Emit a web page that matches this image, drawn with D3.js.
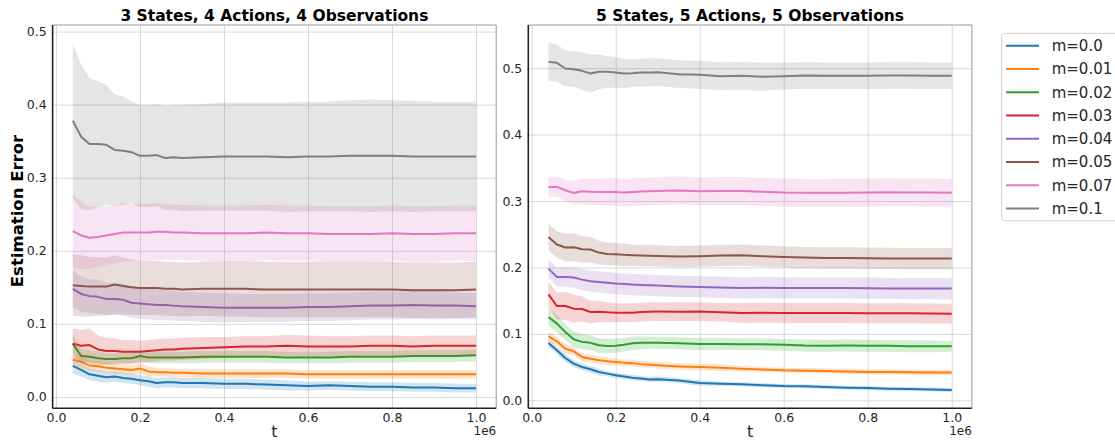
<!DOCTYPE html>
<html>
<head>
<meta charset="utf-8">
<script src="https://cdn.jsdelivr.net/npm/d3@7"></script>
<style>
body { margin: 0; background: #fff; }
svg { font-family: "DejaVu Sans", sans-serif; }
</style>
</head>
<body>
<div class="chart"></div>
<script>
/* estimation error vs t, two panels */

// shared time grid (x values, in units of 1e6)
var tValues = [0.04, 0.06, 0.08, 0.10, 0.12, 0.14, 0.16, 0.18, 0.20, 0.22, 0.24, 0.26, 0.28, 0.30,
               0.35, 0.40, 0.45, 0.50, 0.55, 0.60, 0.65, 0.70, 0.75, 0.80, 0.85, 0.90, 0.95, 1.00];

var mLabels = ["m=0.0", "m=0.01", "m=0.02", "m=0.03", "m=0.04", "m=0.05", "m=0.07", "m=0.1"];
var panelTitles = ["3 States, 4 Actions, 4 Observations", "5 States, 5 Actions, 5 Observations"];
var xTicks = [0.0, 0.2, 0.4, 0.6, 0.8, 1.0];
var leftYTicks = [0.0, 0.1, 0.2, 0.3, 0.4, 0.5];
var rightYTicks = [0.0, 0.1, 0.2, 0.3, 0.4, 0.5];

// ---- left panel: mean curve and half-width of shaded band ----
var leftMean_00 = [0.0425,0.037,0.031,0.029,0.027,0.028,0.026,0.025,0.023,0.0215,0.019,0.020,0.020,0.019,0.019,0.018,0.018,0.017,0.016,0.015,0.016,0.015,0.014,0.014,0.013,0.013,0.012,0.012];
var leftBand_00 = [0.010,0.009,0.008,0.008,0.008,0.007,0.007,0.007,0.007,0.007,0.007,0.007,0.007,0.007,0.007,0.007,0.007,0.007,0.007,0.006,0.006,0.006,0.006,0.006,0.006,0.006,0.006,0.006];
var leftMean_01 = [0.051,0.048,0.043,0.042,0.040,0.039,0.038,0.037,0.039,0.035,0.034,0.034,0.033,0.033,0.032,0.032,0.032,0.032,0.032,0.031,0.031,0.031,0.031,0.031,0.031,0.031,0.031,0.031];
var leftBand_01 = [0.008,0.008,0.007,0.007,0.007,0.007,0.007,0.007,0.007,0.007,0.006,0.006,0.006,0.006,0.006,0.006,0.006,0.006,0.006,0.006,0.006,0.006,0.006,0.006,0.006,0.006,0.006,0.006];
var leftMean_02 = [0.073,0.056,0.055,0.053,0.052,0.052,0.053,0.053,0.056,0.054,0.054,0.054,0.054,0.054,0.055,0.055,0.055,0.055,0.054,0.054,0.054,0.055,0.055,0.055,0.056,0.056,0.056,0.057];
var leftBand_02 = [0.012,0.010,0.009,0.009,0.008,0.008,0.008,0.008,0.008,0.008,0.008,0.008,0.008,0.008,0.008,0.008,0.008,0.008,0.008,0.008,0.008,0.008,0.008,0.008,0.008,0.008,0.008,0.008];
var leftMean_03 = [0.073,0.070,0.071,0.065,0.063,0.063,0.062,0.062,0.062,0.063,0.064,0.065,0.065,0.066,0.067,0.068,0.069,0.069,0.070,0.069,0.069,0.069,0.070,0.070,0.069,0.070,0.070,0.070];
var leftBand_03 = [0.021,0.022,0.023,0.019,0.018,0.017,0.016,0.016,0.015,0.015,0.015,0.015,0.015,0.015,0.015,0.014,0.014,0.014,0.015,0.015,0.014,0.014,0.014,0.014,0.014,0.014,0.014,0.014];
var leftMean_04 = [0.148,0.141,0.138,0.137,0.134,0.134,0.133,0.129,0.128,0.127,0.126,0.126,0.125,0.124,0.123,0.122,0.122,0.122,0.122,0.123,0.123,0.124,0.125,0.125,0.126,0.125,0.125,0.124];
var leftBand_04 = [0.025,0.024,0.023,0.023,0.022,0.022,0.022,0.021,0.021,0.021,0.021,0.021,0.020,0.020,0.020,0.020,0.019,0.019,0.019,0.019,0.019,0.019,0.019,0.019,0.019,0.019,0.018,0.018];
var leftMean_05 = [0.153,0.152,0.151,0.151,0.151,0.154,0.152,0.150,0.149,0.149,0.149,0.148,0.148,0.147,0.148,0.148,0.148,0.147,0.147,0.147,0.147,0.147,0.147,0.147,0.146,0.146,0.146,0.147];
var leftBand_05 = [0.042,0.042,0.041,0.040,0.040,0.040,0.039,0.038,0.037,0.037,0.037,0.037,0.037,0.037,0.037,0.038,0.038,0.038,0.038,0.038,0.038,0.038,0.038,0.038,0.038,0.038,0.038,0.038];
var leftMean_07 = [0.227,0.221,0.218,0.219,0.221,0.223,0.225,0.225,0.225,0.225,0.226,0.226,0.225,0.225,0.224,0.224,0.224,0.225,0.224,0.224,0.223,0.223,0.223,0.224,0.223,0.223,0.224,0.224];
var leftBand_07 = [0.050,0.046,0.043,0.041,0.040,0.040,0.040,0.039,0.039,0.039,0.039,0.038,0.038,0.038,0.038,0.038,0.038,0.038,0.038,0.038,0.038,0.038,0.038,0.038,0.038,0.038,0.038,0.038];
var leftMean_10 = [0.378,0.356,0.346,0.346,0.345,0.338,0.337,0.335,0.330,0.330,0.331,0.327,0.328,0.327,0.328,0.329,0.329,0.329,0.328,0.329,0.329,0.330,0.330,0.330,0.329,0.329,0.329,0.329];
var leftBand_10 = [0.106,0.099,0.090,0.086,0.082,0.076,0.074,0.070,0.070,0.070,0.070,0.071,0.072,0.073,0.073,0.074,0.074,0.074,0.075,0.075,0.075,0.076,0.077,0.076,0.076,0.075,0.075,0.075];

// ---- right panel ----
var rightMean_00 = [0.0863,0.0753,0.0637,0.0552,0.0502,0.0467,0.0427,0.0402,0.0376,0.0358,0.0340,0.0330,0.0315,0.0318,0.0300,0.0261,0.0250,0.0241,0.0228,0.0216,0.0211,0.0200,0.0190,0.0186,0.0175,0.0170,0.0163,0.0156];
var rightBand_00 = [0.006,0.006,0.006,0.005,0.005,0.005,0.005,0.004,0.004,0.004,0.004,0.004,0.004,0.004,0.004,0.004,0.003,0.003,0.003,0.003,0.003,0.003,0.003,0.003,0.003,0.003,0.003,0.003];
var rightMean_01 = [0.0964,0.0889,0.0778,0.0738,0.0652,0.0627,0.0602,0.0590,0.0577,0.0565,0.0560,0.0545,0.0535,0.0527,0.0510,0.0500,0.0490,0.0477,0.0465,0.0452,0.0447,0.0442,0.0435,0.0427,0.0427,0.0422,0.0420,0.0420];
var rightBand_01 = [0.007,0.007,0.007,0.006,0.006,0.006,0.006,0.006,0.005,0.005,0.005,0.005,0.005,0.005,0.005,0.005,0.005,0.004,0.004,0.004,0.004,0.004,0.004,0.004,0.004,0.004,0.004,0.004];
var rightMean_02 = [0.1255,0.1155,0.1030,0.0919,0.0880,0.0865,0.0828,0.0818,0.0822,0.0838,0.0858,0.0865,0.0868,0.0866,0.0860,0.0848,0.0848,0.0846,0.0843,0.0835,0.0825,0.0823,0.0825,0.0822,0.0820,0.0815,0.0813,0.0813];
var rightBand_02 = [0.013,0.013,0.012,0.012,0.011,0.011,0.011,0.011,0.011,0.010,0.010,0.010,0.009,0.009,0.009,0.009,0.009,0.009,0.009,0.009,0.009,0.009,0.009,0.009,0.009,0.009,0.009,0.008];
var rightMean_03 = [0.1596,0.1420,0.1420,0.1380,0.1375,0.1330,0.1335,0.1325,0.1320,0.1318,0.1320,0.1328,0.1335,0.1336,0.1335,0.1336,0.1325,0.1315,0.1318,0.1315,0.1315,0.1315,0.1315,0.1312,0.1312,0.1310,0.1308,0.1305];
var rightBand_03 = [0.019,0.020,0.021,0.021,0.019,0.017,0.016,0.015,0.014,0.014,0.014,0.014,0.014,0.014,0.014,0.014,0.014,0.015,0.015,0.015,0.015,0.015,0.015,0.015,0.015,0.015,0.015,0.015];
var rightMean_04 = [0.1983,0.1857,0.1857,0.1850,0.1817,0.1792,0.1782,0.1770,0.1757,0.1750,0.1742,0.1737,0.1732,0.1727,0.1715,0.1707,0.1700,0.1692,0.1695,0.1692,0.1692,0.1692,0.1690,0.1688,0.1685,0.1682,0.1682,0.1682];
var rightBand_04 = [0.014,0.014,0.015,0.015,0.016,0.016,0.016,0.016,0.016,0.016,0.016,0.016,0.016,0.016,0.016,0.016,0.016,0.016,0.016,0.016,0.016,0.016,0.016,0.016,0.016,0.016,0.016,0.016];
var rightMean_05 = [0.2460,0.2345,0.2300,0.2305,0.2274,0.2270,0.2224,0.2204,0.2200,0.2190,0.2184,0.2180,0.2178,0.2174,0.2164,0.2169,0.2180,0.2184,0.2170,0.2159,0.2150,0.2144,0.2144,0.2140,0.2136,0.2134,0.2134,0.2134];
var rightBand_05 = [0.020,0.020,0.021,0.021,0.020,0.019,0.018,0.017,0.017,0.017,0.016,0.016,0.016,0.016,0.016,0.016,0.016,0.016,0.016,0.016,0.016,0.016,0.016,0.016,0.016,0.016,0.016,0.016];
var rightMean_07 = [0.3213,0.3213,0.3163,0.3122,0.3147,0.3140,0.3137,0.3137,0.3137,0.3127,0.3135,0.3142,0.3148,0.3152,0.3160,0.3148,0.3150,0.3150,0.3140,0.3128,0.3123,0.3123,0.3125,0.3128,0.3133,0.3130,0.3128,0.3123];
var rightBand_07 = [0.015,0.015,0.016,0.018,0.019,0.020,0.020,0.021,0.021,0.021,0.021,0.021,0.021,0.021,0.021,0.021,0.021,0.021,0.021,0.021,0.021,0.021,0.021,0.021,0.021,0.021,0.021,0.021];
var rightMean_10 = [0.5095,0.5080,0.4995,0.4985,0.4960,0.4920,0.4945,0.4945,0.4935,0.4920,0.4925,0.4935,0.4935,0.4940,0.4910,0.4900,0.4880,0.4885,0.4870,0.4880,0.4890,0.4885,0.4885,0.4885,0.4890,0.4890,0.4885,0.4885];
var rightBand_10 = [0.029,0.028,0.027,0.027,0.028,0.029,0.026,0.024,0.023,0.022,0.021,0.021,0.021,0.021,0.021,0.021,0.021,0.021,0.021,0.020,0.020,0.020,0.020,0.020,0.020,0.020,0.020,0.020];

// matplotlib tab10
var colors = ["#1f77b4", "#ff7f0e", "#2ca02c", "#d62728", "#9467bd", "#8c564b", "#e377c2", "#7f7f7f"];

var leftSeries = [
    [leftMean_00, leftBand_00], [leftMean_01, leftBand_01], [leftMean_02, leftBand_02], [leftMean_03, leftBand_03],
    [leftMean_04, leftBand_04], [leftMean_05, leftBand_05], [leftMean_07, leftBand_07], [leftMean_10, leftBand_10]
];
var rightSeries = [
    [rightMean_00, rightBand_00], [rightMean_01, rightBand_01], [rightMean_02, rightBand_02], [rightMean_03, rightBand_03],
    [rightMean_04, rightBand_04], [rightMean_05, rightBand_05], [rightMean_07, rightBand_07], [rightMean_10, rightBand_10]
];

var W = 1115, H = 440;
var plotTop = 25, plotBottom = 408.3;

// panel geometry + axis limits (matplotlib autoscale w/ 5% margins)
var panels = [
    { title: panelTitles[0], x0: 52.6, x1: 496.2, yDomain: [-0.0155, 0.509], yTicks: leftYTicks, series: leftSeries, ylabel: true },
    { title: panelTitles[1], x0: 528.3, x1: 971.9, yDomain: [-0.012, 0.565], yTicks: rightYTicks, series: rightSeries, ylabel: false }
];

var svg = d3.select("div.chart").append("svg")
    .attr("width", W)
    .attr("height", H);

svg.append("rect").attr("width", W).attr("height", H).attr("fill", "#fff");

panels.forEach(function(p) {
    var xScale = d3.scaleLinear().domain([-0.008, 1.048]).range([p.x0, p.x1]);
    var yScale = d3.scaleLinear().domain(p.yDomain).range([plotBottom, plotTop]);
    var g = svg.append("g");

    // grid
    g.append("g")
        .attr("transform", "translate(0," + plotBottom + ")")
        .call(d3.axisBottom(xScale).tickValues(xTicks).tickSize(-(plotBottom - plotTop)).tickFormat(""))
        .call(function(s) { s.select(".domain").remove(); })
        .selectAll("line").attr("stroke", "#d8d8d8").attr("stroke-width", 1);
    g.append("g")
        .attr("transform", "translate(" + p.x0 + ",0)")
        .call(d3.axisLeft(yScale).tickValues(p.yTicks).tickSize(-(p.x1 - p.x0)).tickFormat(""))
        .call(function(s) { s.select(".domain").remove(); })
        .selectAll("line").attr("stroke", "#d8d8d8").attr("stroke-width", 1);

    var area = d3.area()
        .x(function(d) { return xScale(d.t); })
        .y0(function(d) { return yScale(d.m - d.b); })
        .y1(function(d) { return yScale(d.m + d.b); });
    var line = d3.line()
        .x(function(d) { return xScale(d.t); })
        .y(function(d) { return yScale(d.m); });

    p.series.forEach(function(s, i) {
        var pts = tValues.map(function(t, k) { return { t: t, m: s[0][k], b: s[1][k] }; });
        g.append("path")
            .datum(pts)
            .attr("d", area)
            .attr("fill", colors[i])
            .attr("fill-opacity", 0.2)
            .attr("stroke", "none");
        g.append("path")
            .datum(pts)
            .attr("d", line)
            .attr("fill", "none")
            .attr("stroke", colors[i])
            .attr("stroke-width", 2)
            .attr("stroke-linejoin", "round");
    });

    // spines
    g.append("line").attr("x1", p.x0).attr("x2", p.x1).attr("y1", plotTop).attr("y2", plotTop)
        .attr("stroke", "#999").attr("stroke-width", 1);
    g.append("line").attr("x1", p.x1).attr("x2", p.x1).attr("y1", plotTop).attr("y2", plotBottom)
        .attr("stroke", "#999").attr("stroke-width", 1);
    g.append("line").attr("x1", p.x0).attr("x2", p.x0).attr("y1", plotTop).attr("y2", plotBottom)
        .attr("stroke", "#222").attr("stroke-width", 1.6);
    g.append("line").attr("x1", p.x0).attr("x2", p.x1).attr("y1", plotBottom).attr("y2", plotBottom)
        .attr("stroke", "#222").attr("stroke-width", 1.6);

    // tick labels
    var xAxis = g.append("g")
        .attr("transform", "translate(0," + plotBottom + ")")
        .call(d3.axisBottom(xScale).tickValues(xTicks).tickSize(0).tickPadding(5).tickFormat(d3.format(".1f")));
    xAxis.select(".domain").remove();
    xAxis.selectAll("text").style("font-size", "12.5px").attr("fill", "#262626")
        .style("font-family", "DejaVu Sans, sans-serif");

    var yAxis = g.append("g")
        .attr("transform", "translate(" + p.x0 + ",0)")
        .call(d3.axisLeft(yScale).tickValues(p.yTicks).tickSize(0).tickPadding(6).tickFormat(d3.format(".1f")));
    yAxis.select(".domain").remove();
    yAxis.selectAll("text").style("font-size", "12.5px").attr("fill", "#262626")
        .style("font-family", "DejaVu Sans, sans-serif");

    // titles / labels
    g.append("text")
        .attr("x", (p.x0 + p.x1) / 2)
        .attr("y", 21)
        .attr("text-anchor", "middle")
        .style("font-size", "15.5px")
        .style("font-weight", "bold")
        .text(p.title);

    g.append("text")
        .attr("x", (p.x0 + p.x1) / 2)
        .attr("y", 437)
        .attr("text-anchor", "middle")
        .style("font-size", "16px")
        .attr("fill", "#262626")
        .text("t");

    g.append("text")
        .attr("x", p.x1)
        .attr("y", 435)
        .attr("text-anchor", "end")
        .style("font-size", "12px")
        .attr("fill", "#262626")
        .text("1e6");

    if (p.ylabel) {
        g.append("text")
            .attr("transform", "translate(23," + 211 + ") rotate(-90)")
            .attr("text-anchor", "middle")
            .style("font-size", "16.5px")
            .style("font-weight", "bold")
            .text("Estimation Error");
    }
});

// legend
var legend = svg.append("g").attr("class", "legend");
legend.append("rect")
    .attr("x", 1001.7)
    .attr("y", 33.3)
    .attr("width", 130)
    .attr("height", 187.4)
    .attr("rx", 3)
    .attr("fill", "#fff")
    .attr("stroke", "#d0d0d0")
    .attr("stroke-width", 1);

mLabels.forEach(function(lab, i) {
    var y = 45.7 + 23.25 * i;
    legend.append("line")
        .attr("x1", 1006).attr("x2", 1039)
        .attr("y1", y).attr("y2", y)
        .attr("stroke", colors[i])
        .attr("stroke-width", 2);
    legend.append("text")
        .attr("x", 1051.7)
        .attr("y", y + 5.3)
        .style("font-size", "15px")
        .attr("fill", "#262626")
        .text(lab);
});
</script>
</body>
</html>
